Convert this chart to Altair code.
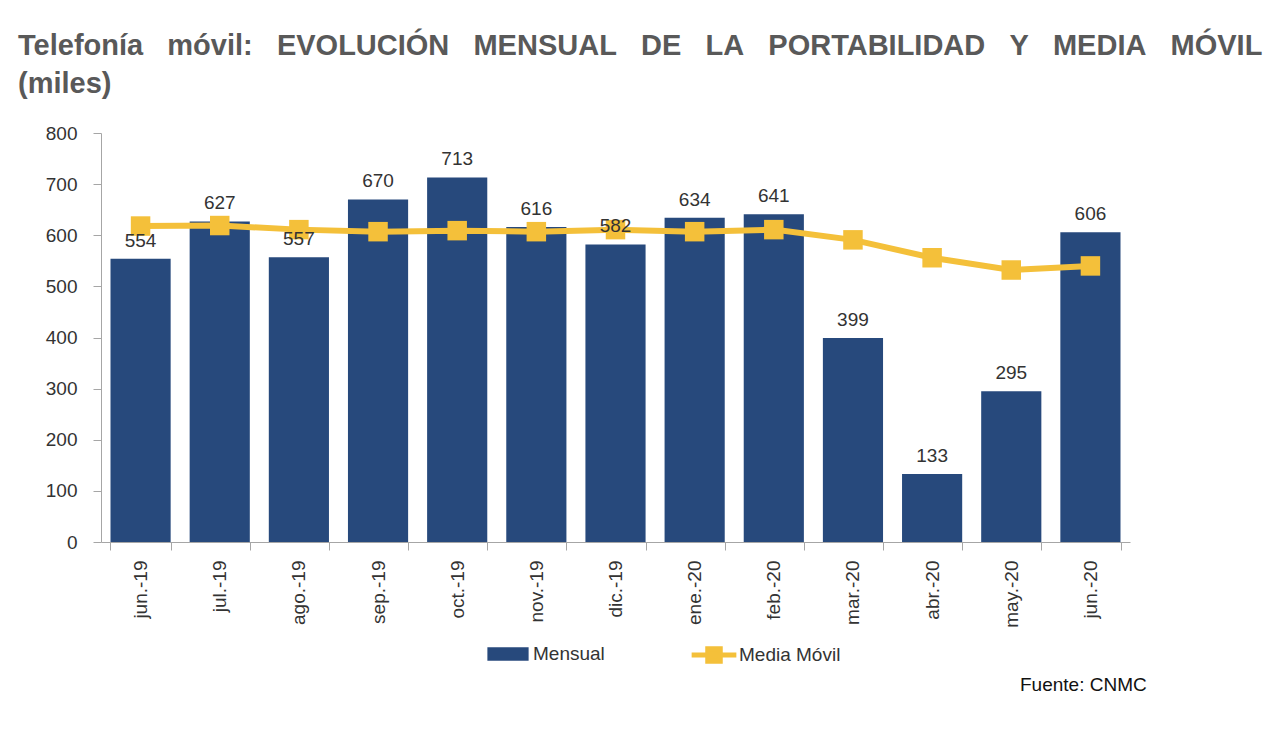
import altair as alt
import pandas as pd

months = ["jun.-19", "jul.-19", "ago.-19", "sep.-19", "oct.-19", "nov.-19", "dic.-19",
          "ene.-20", "feb.-20", "mar.-20", "abr.-20", "may.-20", "jun.-20"]
mensual = [554, 627, 557, 670, 713, 616, 582, 634, 641, 399, 133, 295, 606]
media_movil = [618, 619, 611, 607, 609, 607, 611, 607, 611, 591, 556, 532, 540]

NAVY = "#27497c"
GOLD = "#f4c03a"
FONT = "Liberation Sans"

df = pd.DataFrame({
    "mes": months,
    "Mensual": mensual,
    "Media": media_movil,
    "s1": ["Mensual"] * len(months),
    "s2": ["Media Móvil"] * len(months),
})

sp = "\u00a0\u00a0\u00a0"
title_line1 = sp.join(["Telefonía", "móvil:", "EVOLUCIÓN", "MENSUAL", "DE", "LA",
                       "PORTABILIDAD", "Y", "MEDIA", "MÓVIL"])
title_line2 = "(miles)"

x = alt.X(
    "mes:N", sort=months,
    scale=alt.Scale(paddingInner=0.24, paddingOuter=0.12),
    axis=alt.Axis(title=None, labelAngle=-90, labelFontSize=19, labelColor="#333333",
                  labelFont=FONT, labelPadding=10, tickBand="extent", tickSize=8,
                  domainColor="#a6a6a6", tickColor="#a6a6a6", labelAlign="right",
                  labelBaseline="middle"),
)
y_axis = alt.Axis(title=None, values=list(range(0, 801, 100)), labelFontSize=19,
                  labelColor="#333333", labelFont=FONT, labelPadding=16, tickSize=8,
                  domainColor="#a6a6a6", tickColor="#a6a6a6", grid=False)
y_scale = alt.Scale(domain=[0, 800], nice=False)

base = alt.Chart(df)

bars = base.mark_bar().encode(
    x=x,
    y=alt.Y("Mensual:Q", scale=y_scale, axis=y_axis),
    color=alt.Color("s1:N", scale=alt.Scale(domain=["Mensual"], range=[NAVY]),
                    legend=alt.Legend(title=None, orient="none", legendX=386, legendY=500,
                                      symbolType="M-1,-0.33H1V0.33H-1Z", symbolSize=1700,
                                      labelFontSize=19, labelFont=FONT, labelColor="#333333",
                                      labelOffset=4, symbolStrokeWidth=0)),
)

line = base.mark_line(strokeWidth=6, point=alt.OverlayMarkDef(shape="square", size=380,
                                                               filled=True, opacity=1)).encode(
    x=x,
    y=alt.Y("Media:Q", scale=y_scale),
    color=alt.Color("s2:N", scale=alt.Scale(domain=["Media Móvil"], range=[GOLD]),
                    legend=alt.Legend(title=None, orient="none", legendX=588, legendY=497,
                                      symbolType="M-1,0H1M-0.28,-0.28H0.28V0.28H-0.28Z",
                                      symbolSize=2000, symbolStrokeWidth=5,
                                      symbolFillColor=GOLD,
                                      labelFontSize=19, labelFont=FONT, labelColor="#333333",
                                      labelOffset=0)),
)

labels = base.mark_text(dy=-12, fontSize=19, font=FONT, color="#333333",
                        baseline="alphabetic").encode(
    x=x,
    y=alt.Y("Mensual:Q", scale=y_scale),
    text=alt.Text("Mensual:Q"),
)

source = base.mark_text(fontSize=19, font=FONT, color="#111111", align="left",
                        baseline="middle").encode(
    x=alt.value(919), y=alt.value(552), text=alt.value("Fuente: CNMC")
).transform_filter(alt.datum.mes == "jun.-19")

chart = alt.layer(bars, line, labels, source).resolve_scale(color="independent").properties(
    width=1029,
    height=409,
    background="white",
    autosize=alt.AutoSizeParams(type="none"),
    padding={"left": 93, "top": 125, "right": 142, "bottom": 191},
    title=alt.Title([title_line1, title_line2], anchor="start", frame="group", dx=-83,
                    offset=40, fontSize=29, font=FONT, fontWeight="bold", color="#595959",
                    lineHeight=38, baseline="top", dy=15),
).configure_view(strokeWidth=0, stroke="transparent")

chart.save("out.html", embed_options={"renderer": "svg", "actions": False})
